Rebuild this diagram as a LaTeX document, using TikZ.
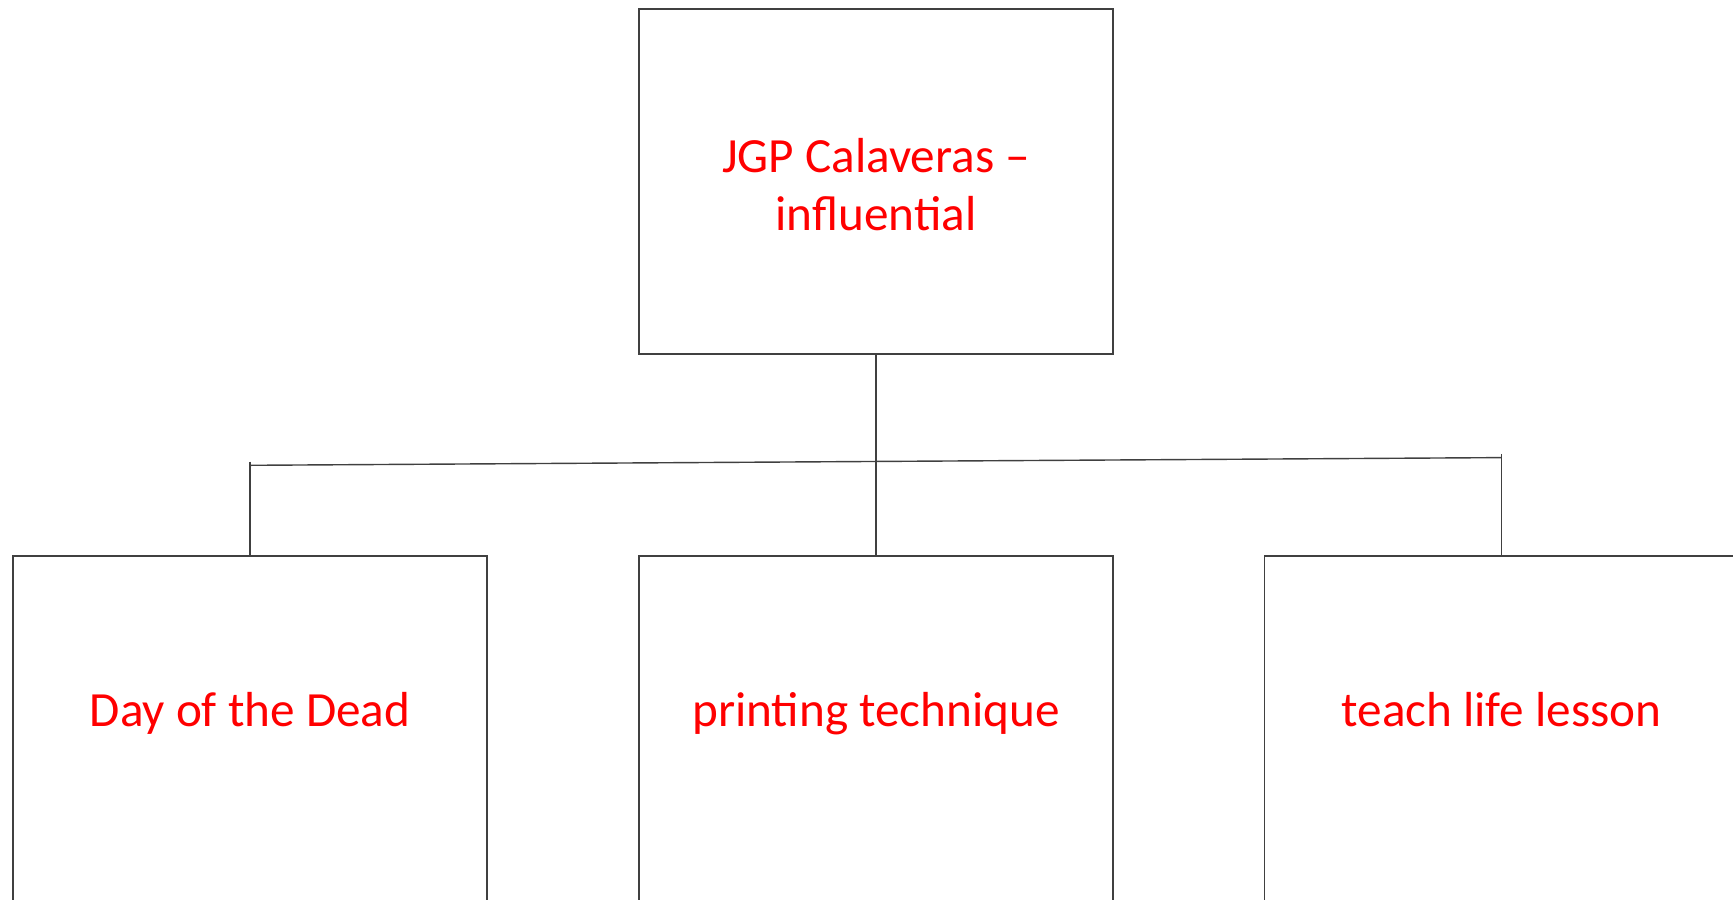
\documentclass[tikz,border=0pt]{standalone}
\usepackage{fontspec}
\setmainfont{Carlito}
\usetikzlibrary{positioning}
\definecolor{boxline}{HTML}{404040}
\definecolor{txtred}{HTML}{FF0000}
\tikzset{box/.style={draw,rectangle,minimum width=9.48cm,minimum height=6.9cm,inner sep=0pt},
  lbl/.style={text=txtred,font=\fontsize{28}{33}\selectfont,align=center,inner sep=0pt}}

\begin{document}
\begin{tikzpicture}[x=0.02cm,y=-0.02cm,color=boxline,line width=0.8pt]
   \useasboundingbox (0,0) rectangle (1733,899);
   \clip (0,0) rectangle (1733,899);
   \node[box] (top) at (876,181.5) {};
   \node[lbl] (toptxt) at (876,185) {JGP Calaveras --\\influential};
   \begin{scope}
    \node[box] (dead) at (250,728.5) {};
    \node[box] (print) at (876,728.5) {};
    \node[box] (teach) at (1501.5,728.5) {};
    \node[lbl,anchor=base] (deadtxt) at (250,726) {Day of the Dead};
    \node[lbl,anchor=base] (printtxt) at (876,726) {printing technique};
    \node[lbl,anchor=base] (teachtxt) at (1501.5,726) {teach life lesson};
   \end{scope}
   \coordinate (busL) at (250,465.3);
   \coordinate (busR) at (1501.5,457.6);
   \coordinate (tickL) at (250,461.5);
   \coordinate (tickR) at (1501.5,453.8);
   \draw (busL) -- (busR);
   \draw (top.south) -- (print.north);
   \draw (tickL) -- (dead.north);
   \draw (tickR) -- (teach.north);
  \end{tikzpicture}
\end{document}
